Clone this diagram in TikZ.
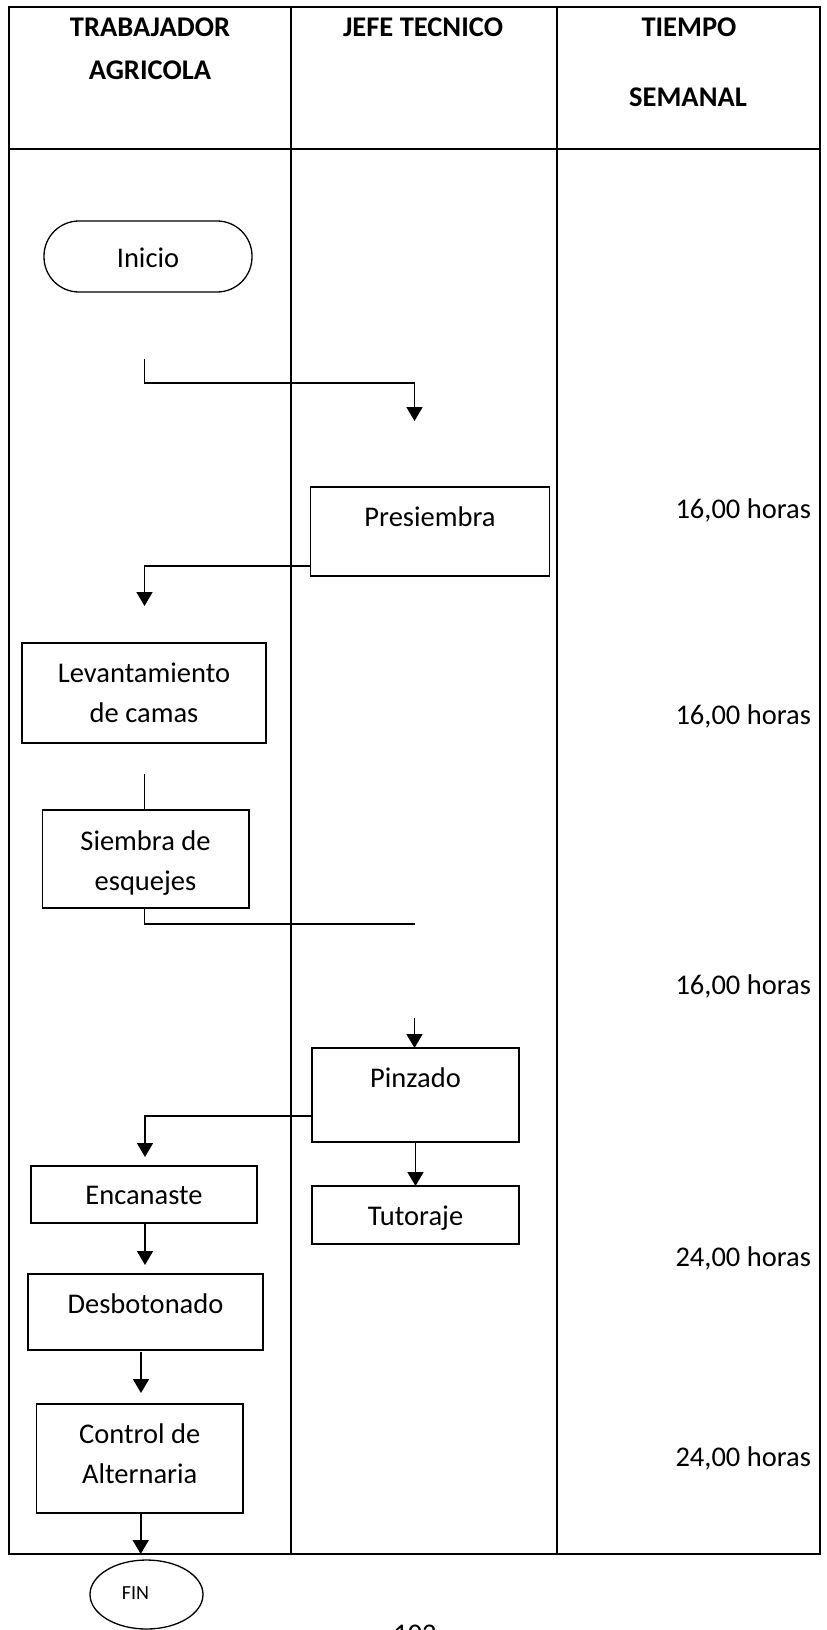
\documentclass[tikz,border=0pt]{standalone}
\usepackage{fontspec}
\setmainfont{Carlito}
\usetikzlibrary{arrows.meta,shapes.geometric}
\begin{document}
\begin{tikzpicture}[x=1pt,y=-1pt,
  every node/.style={inner sep=0pt, outer sep=0pt},
  body/.style={font=\fontsize{28.5pt}{40pt}\selectfont, align=center, text height=18pt, text depth=0pt},
  head/.style={font=\bfseries\fontsize{28.5pt}{43pt}\selectfont, align=center, text height=18pt, text depth=0pt},
  small/.style={font=\fontsize{20pt}{24pt}\selectfont, text height=12.7pt, text depth=0pt},
  box/.style={draw, line width=1.5pt, rectangle},
  terminal/.style={draw, line width=1.3pt},
  frame/.style={line width=2.3pt},
  flow/.style={line width=1.7pt},
  arr/.style={flow, -{Triangle[length=14pt,width=16pt]}},
]
\useasboundingbox (0,0) rectangle (827,1630);

% table frame and lanes
\draw[frame] (9,7) rectangle (820,1554);
\draw[frame] (9,149) -- (820,149);
\draw[frame] (291,7) -- (291,1554);
\draw[frame] (557,7) -- (557,1554);

% headers (two-line nodes are placed by their last line)
\node[head] (h1) at (150,70.5) {TRABAJADOR\\AGRICOLA};
\node[head] (h2) at (423,27) {JEFE TECNICO};
\node[head] (h3a) at (689,27) {TIEMPO};
\node[head] (h3b) at (688,97) {SEMANAL};

% start
\node[terminal, rounded corners=35pt, minimum width=208pt, minimum height=71pt] (ini) at (148,256.5) {};
\node[body] (iniT) at (148,258) {Inicio};

% process boxes
\node[box, minimum width=239pt, minimum height=89pt] (pres) at (430,531.5) {};
\node[body] (presT) at (430,517) {Presiembra};

\node[box, minimum width=244pt, minimum height=100pt] (lev) at (144,693) {};
\node[body] (levT) at (144,713.5) {Levantamiento\\de camas};

\node[box, minimum width=206.5pt, minimum height=98pt] (siem) at (145.75,859) {};
\node[body] (siemT) at (145.5,881) {Siembra de\\esquejes};

\node[box, minimum width=207pt, minimum height=94pt] (pinz) at (415.5,1095) {};
\node[body] (pinzT) at (415.5,1078) {Pinzado};

\node[box, minimum width=207pt, minimum height=58pt] (tut) at (415.5,1215) {};
\node[body] (tutT) at (415.5,1216) {Tutoraje};

\node[box, minimum width=226pt, minimum height=57pt] (enc) at (144,1194.5) {};
\node[body] (encT) at (144,1195) {Encanaste};

\node[box, minimum width=235pt, minimum height=76pt] (desb) at (145.5,1312) {};
\node[body] (desbT) at (145.5,1304) {Desbotonado};

\node[box, minimum width=206.5pt, minimum height=109pt] (ctrl) at (139.75,1458.5) {};
\node[body] (ctrlT) at (139.75,1474) {Control de\\Alternaria};

% end
\node[terminal, ellipse, minimum width=113pt, minimum height=69pt] (fin) at (146.5,1594.5) {};
\node[small] (finT) at (135.5,1593) {FIN};

% weekly times
\node[body, anchor=east] (t1) at (811,509) {16,00 horas};
\node[body, anchor=east] (t2) at (811,715) {16,00 horas};
\node[body, anchor=east] (t3) at (811,985) {16,00 horas};
\node[body, anchor=east] (t4) at (811,1257) {24,00 horas};
\node[body, anchor=east] (t5) at (811,1457) {24,00 horas};

% page number
\node[body, anchor=north] (pg) at (415,1625) {102};

% connector end points
\coordinate (c1s) at (144.5,359);
\coordinate (c1e) at (414.5,421);
\coordinate (c2e) at (144.5,606);
\coordinate (c3s) at (144.5,774);
\coordinate (c4e) at (415,924);
\coordinate (c5s) at (414.5,1018);
\coordinate (c6e) at (145,1157);
\coordinate (c8s) at (145,1223);
\coordinate (c8e) at (145,1265);
\coordinate (c9s) at (141,1352);
\coordinate (c9e) at (141,1393);
\coordinate (c10s) at (140.7,1513);
\coordinate (c10e) at (140.7,1554);

% connectors
\draw[arr] (c1s) -- ++(0,24) -| (c1e);
\draw[arr] ([yshift=-34.5pt]pres.west) -| (c2e);
\draw[flow] (c3s) -- (c3s |- siem.north);
\draw[flow] (c3s |- siem.south) |- (c4e);
\draw[arr] (c5s) -- (c5s |- pinz.north);
\draw[arr] ([yshift=-21pt]pinz.west) -| (c6e);
\draw[arr] (pinz.south) -- (tut.north);
\draw[arr] (c8s) -- (c8e);
\draw[arr] (c9s) -- (c9e);
\draw[arr] (c10s) -- (c10e);
\end{tikzpicture}
\end{document}
